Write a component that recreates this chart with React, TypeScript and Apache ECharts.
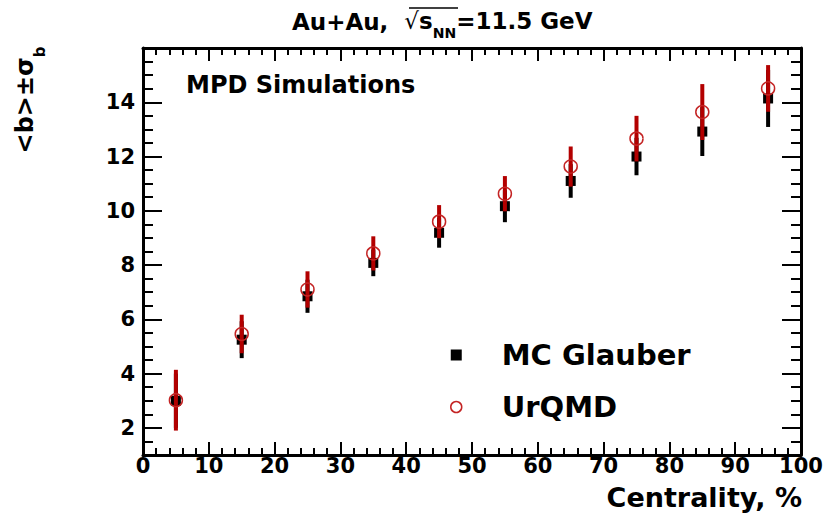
import React, { useEffect, useRef } from 'react';
import * as echarts from 'echarts';

const centrality = [5, 15, 25, 35, 45, 55, 65, 75, 85, 95];
const glauberB = [3.0, 5.25, 6.85, 8.08, 9.19, 10.17, 11.1, 12.0, 12.92, 14.14];
const glauberSigma = [1.0, 0.68, 0.61, 0.49, 0.55, 0.59, 0.62, 0.69, 0.9, 1.05];
const urqmdB = [3.02, 5.46, 7.1, 8.43, 9.6, 10.63, 11.63, 12.66, 13.64, 14.51];
const urqmdSigma = [1.12, 0.71, 0.67, 0.63, 0.61, 0.65, 0.74, 0.84, 1.03, 0.86];

const yMajorTicks = [2, 4, 6, 8, 10, 12, 14, 16];
const yTickLabels = [2, 4, 6, 8, 10, 12, 14];
const yMinorTicks = [1, 1.5, 2.5, 3, 3.5, 4.5, 5, 5.5, 6.5, 7, 7.5, 8.5, 9, 9.5, 10.5, 11, 11.5, 12.5, 13, 13.5, 14.5, 15, 15.5];

const FONT = 'DejaVu Sans';
const RED_BAR = '#b30000';
const RED_MARK = '#c42424';

function errorBarSeries(name: string, values: number[], sigmas: number[], color: string, width: number, z: number) {
  return {
    type: 'custom',
    name,
    z,
    data: centrality.map((c, i) => [c, values[i] - sigmas[i], values[i] + sigmas[i]]),
    encode: { x: 0, y: [1, 2] },
    renderItem: (params: any, api: any) => {
      const x = api.value(0);
      const p1 = api.coord([x, api.value(1)]);
      const p2 = api.coord([x, api.value(2)]);
      return {
        type: 'line',
        shape: { x1: p1[0], y1: p1[1], x2: p2[0], y2: p2[1] },
        style: { stroke: color, lineWidth: width },
      };
    },
  };
}

export default function App() {
  const ref = useRef<HTMLDivElement>(null);
  useEffect(() => {
    if (!ref.current) return;
    const chart = echarts.init(ref.current, null, { renderer: 'svg' });
    const yBase = {
      type: 'value',
      min: 1,
      max: 16,
      splitLine: { show: false },
      axisLine: { show: false, onZero: false },
      axisLabel: { show: false },
    };
    const tickStyle = { color: '#000', width: 2 };
    const xBase = {
      type: 'value',
      min: 0,
      max: 100,
      interval: 10,
      splitLine: { show: false },
      axisLine: { show: true, onZero: false, lineStyle: { color: '#000', width: 3 } },
      axisTick: { show: true, inside: true, length: 13, lineStyle: tickStyle },
      minorTick: { show: true, splitNumber: 5, length: 7, lineStyle: tickStyle },
    };
    const option: any = {
      animation: false,
      backgroundColor: '#fff',
      title: [
        {
          text: 'Au+Au,  {r|√}{s|s}{n|NN}{a|=11.5 GeV}',
          left: 287,
          top: 4,
          textStyle: {
            fontFamily: FONT,
            fontSize: 23,
            fontWeight: 'bold',
            color: '#000',
            rich: {
              a: { fontFamily: FONT, fontSize: 23, fontWeight: 'bold', color: '#000', lineHeight: 26, verticalAlign: 'top' },
              r: { fontFamily: FONT, fontSize: 23, fontWeight: 'normal', color: '#000', lineHeight: 26, verticalAlign: 'top' },
              s: { fontFamily: FONT, fontSize: 23, fontWeight: 'bold', color: '#000', lineHeight: 26, verticalAlign: 'top' },
              n: { fontFamily: FONT, fontSize: 14, fontWeight: 'bold', color: '#000', lineHeight: 14, padding: [17, 0, 0, 0], verticalAlign: 'top' },
            },
          },
        },
        {
          text: 'MPD Simulations',
          left: 181,
          top: 68,
          textStyle: { fontFamily: FONT, fontSize: 24, fontWeight: 'bold', color: '#000' },
        },
      ],
      graphic: [
        {
          type: 'line',
          shape: { x1: 409, y1: 8, x2: 458, y2: 8 },
          style: { stroke: '#000', lineWidth: 1.5 },
        },
      ],
      legend: {
        orient: 'vertical',
        left: 445,
        top: 335,
        itemWidth: 11,
        itemHeight: 11,
        itemGap: 22,
        selectedMode: false,
        textStyle: {
          fontFamily: FONT,
          fontSize: 29,
          fontWeight: 'bold',
          color: '#000',
          lineHeight: 30,
          padding: [0, 0, 0, 35],
        },
        data: [
          { name: 'MC Glauber', icon: 'rect', itemStyle: { color: '#000', borderWidth: 0 } },
          { name: 'UrQMD', icon: 'circle', itemStyle: { color: 'rgba(0,0,0,0)', borderColor: RED_MARK, borderWidth: 1.5 } },
        ],
      },
      grid: { left: 143, right: 30, top: 48, bottom: 63, containLabel: false, outerBoundsMode: 'none' },
      xAxis: [
        {
          ...xBase,
          position: 'bottom',
          name: 'Centrality, %',
          nameLocation: 'end',
          nameGap: 1,
          nameMoveOverlap: false,
          nameTextStyle: {
            fontFamily: FONT,
            fontSize: 27,
            fontWeight: 'bold',
            color: '#000',
            align: 'right',
            verticalAlign: 'top',
            lineHeight: 27,
            padding: [29, 0, 0, 0],
          },
          axisLabel: { show: true, fontFamily: FONT, fontSize: 21, fontWeight: 'bold', color: '#000', margin: 0 },
        },
        {
          ...xBase,
          position: 'top',
          axisLabel: { show: false },
        },
      ],
      yAxis: [
        {
          ...yBase,
          position: 'left',
          axisLine: { show: true, onZero: false, lineStyle: { color: '#000', width: 3 } },
          axisTick: { show: true, inside: true, length: 19, lineStyle: tickStyle, customValues: yMajorTicks },
          axisLabel: {
            show: true,
            customValues: yTickLabels,
            fontFamily: FONT,
            fontSize: 21,
            fontWeight: 'bold',
            color: '#000',
            margin: 8,
          },
        },
        {
          ...yBase,
          position: 'left',
          axisTick: { show: true, inside: true, length: 10, lineStyle: tickStyle, customValues: yMinorTicks },
        },
        {
          ...yBase,
          position: 'right',
          axisLine: { show: true, onZero: false, lineStyle: { color: '#000', width: 3 } },
          axisTick: { show: true, inside: true, length: 19, lineStyle: tickStyle, customValues: yMajorTicks },
        },
        {
          ...yBase,
          position: 'right',
          axisTick: { show: true, inside: true, length: 10, lineStyle: tickStyle, customValues: yMinorTicks },
        },
        {
          ...yBase,
          position: 'left',
          offset: 117,
          axisTick: { show: false },
          name: '{m|<b>±σ}{s|b}',
          nameLocation: 'end',
          nameRotate: 90,
          nameGap: -52,
          nameMoveOverlap: false,
          nameTextStyle: {
            align: 'center',
            verticalAlign: 'middle',
            color: '#000',
            rich: {
              m: { fontFamily: FONT, fontSize: 24, fontWeight: 'bold', color: '#000', lineHeight: 26, verticalAlign: 'top' },
              s: { fontFamily: FONT, fontSize: 15, fontWeight: 'bold', color: '#000', lineHeight: 15, padding: [19, 0, 0, 0], verticalAlign: 'top' },
            },
          },
        },
      ],
      series: [
        errorBarSeries('MC Glauber σ', glauberB, glauberSigma, '#000', 4, 2),
        {
          type: 'scatter',
          name: 'MC Glauber',
          z: 3,
          symbol: 'rect',
          symbolSize: 10,
          itemStyle: { color: '#000', opacity: 1 },
          data: centrality.map((c, i) => [c, glauberB[i]]),
        },
        errorBarSeries('UrQMD σ', urqmdB, urqmdSigma, RED_BAR, 4, 4),
        {
          type: 'scatter',
          name: 'UrQMD',
          z: 5,
          symbol: 'circle',
          symbolSize: 13,
          itemStyle: { color: 'rgba(0,0,0,0)', borderColor: RED_MARK, borderWidth: 1.5, opacity: 1 },
          data: centrality.map((c, i) => [c, urqmdB[i]]),
        },
      ],
    };
    chart.setOption(option);
    return () => chart.dispose();
  }, []);
  return <div ref={ref} style={{ position: 'absolute', left: 0, top: 0, width: 831, height: 518 }} />;
}
